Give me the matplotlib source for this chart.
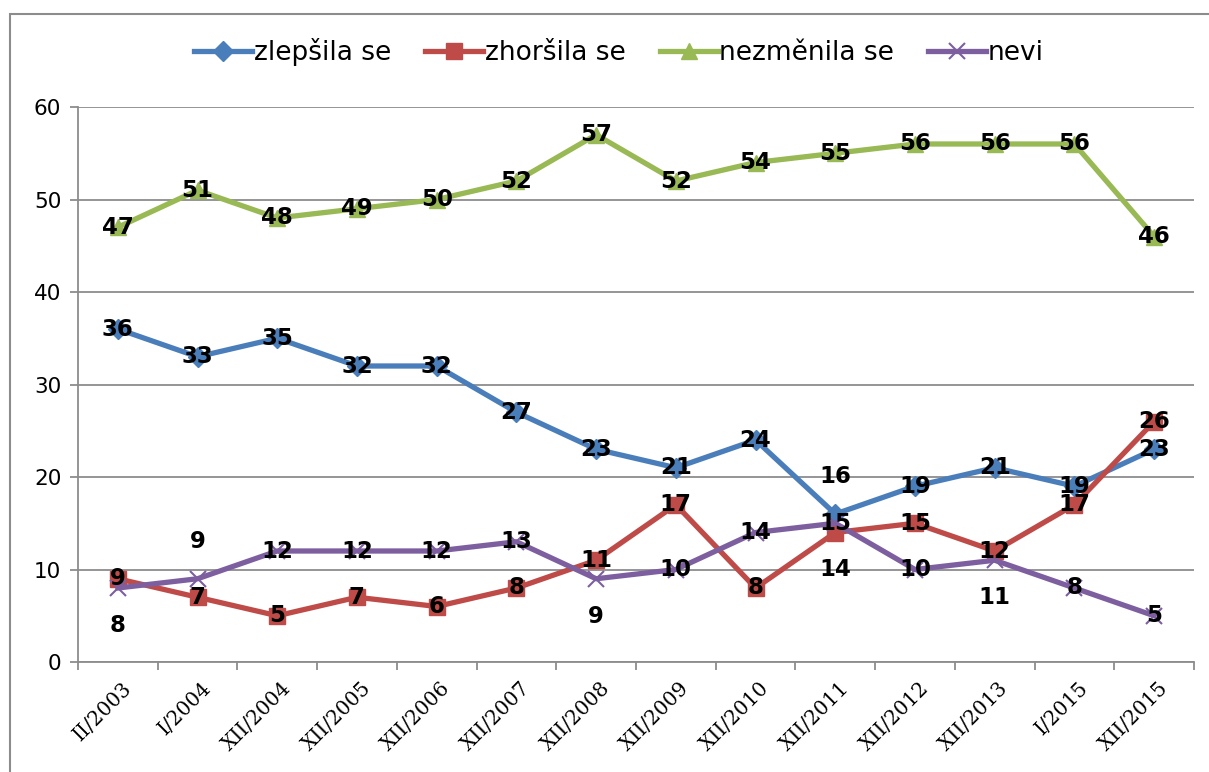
import matplotlib
matplotlib.use("Agg")
import matplotlib.pyplot as plt
from matplotlib.patches import Rectangle
import matplotlib.transforms as mtransforms

categories = ["II/2003", "I/2004", "XII/2004", "XII/2005", "XII/2006", "XII/2007",
              "XII/2008", "XII/2009", "XII/2010", "XII/2011", "XII/2012", "XII/2013",
              "I/2015", "XII/2015"]
zlepsila = [36, 33, 35, 32, 32, 27, 23, 21, 24, 16, 19, 21, 19, 23]
zhorsila = [9, 7, 5, 7, 6, 8, 11, 17, 8, 14, 15, 12, 17, 26]
nezmenila = [47, 51, 48, 49, 50, 52, 57, 52, 54, 55, 56, 56, 56, 46]
nevi = [8, 9, 12, 12, 12, 13, 9, 10, 14, 15, 10, 11, 8, 5]

series = [
    ("zlepšila se", zlepsila, "#4A7EBB", "D", 10),
    ("zhoršila se", zhorsila, "#BE4B48", "s", 11),
    ("nezměnila se", nezmenila, "#98B954", "^", 11),
    ("nevi", nevi, "#7D5FA0", "x", 11),
]

# label offsets (in points) for specific points: (series index, point index) -> dy
offsets = {
    (3, 0): -27, (3, 1): 27, (3, 6): -27, (3, 11): -27,
    (0, 9): 27, (1, 9): -27,
}

fig = plt.figure(figsize=(12.09, 7.72), dpi=100)
fig.patches.append(Rectangle((10 / 1209, -0.01), 1.1, 1 - 14 / 772 + 0.01,
                             transform=fig.transFigure, fill=False,
                             edgecolor="#8C8C8C", linewidth=1.5))
ax = fig.add_axes([78 / 1209, 1 - 662 / 772, (1194 - 78) / 1209, (662 - 107) / 772])

x = list(range(len(categories)))
handles = []
for si, (name, vals, color, marker, ms) in enumerate(series):
    mew = 1.5 if marker == "x" else 1
    h, = ax.plot(x, vals, color=color, linewidth=3.8, marker=marker, markersize=ms,
                 markeredgewidth=mew, markerfacecolor=color, markeredgecolor=color,
                 label=name, zorder=3 + si, solid_joinstyle="round")
    handles.append(h)
for si, (name, vals, color, marker, ms) in enumerate(series):
    for pi, v in enumerate(vals):
        dy = offsets.get((si, pi), 0)
        ax.annotate(str(v), (pi, v), xytext=(0, dy), textcoords="offset points",
                    ha="center", va="center", fontsize=16.5, fontweight="bold",
                    family="DejaVu Sans", color="black", zorder=10)

ax.set_xlim(-0.5, len(categories) - 0.5)
ax.set_ylim(0, 60)
ax.set_yticks(range(0, 61, 10))
ax.yaxis.grid(True, color="#8C8C8C", linewidth=1.3)
ax.set_axisbelow(True)
for s in ["top", "right"]:
    ax.spines[s].set_visible(False)
for s in ["left", "bottom"]:
    ax.spines[s].set_color("#8C8C8C")
    ax.spines[s].set_linewidth(1.3)

ax.set_xticks([i - 0.5 for i in range(len(categories) + 1)], minor=False)
ax.set_xticklabels([])
ax.set_xticks(x, minor=True)
ax.set_xticklabels(categories, minor=True, rotation=45, ha="right",
                   rotation_mode="anchor", family="DejaVu Serif", fontsize=14.5)
ax.tick_params(axis="x", which="minor", length=0, pad=12)
ax.tick_params(axis="x", which="major", length=6, color="#8C8C8C", width=1.3)
ax.tick_params(axis="y", length=6, color="#8C8C8C", width=1.3, labelsize=15.5, pad=6)
shift = mtransforms.ScaledTranslation(4 / 100, 0, fig.dpi_scale_trans)
for lbl in ax.get_xticklabels(minor=True):
    lbl.set_transform(lbl.get_transform() + shift)

fig.legend(handles=handles, loc="center", bbox_to_anchor=(0.512, 1 - 52 / 772), ncol=4,
           frameon=False, fontsize=19, handlelength=2.2, handletextpad=0.05,
           columnspacing=1.3)

fig.savefig("out.png", dpi=100)
